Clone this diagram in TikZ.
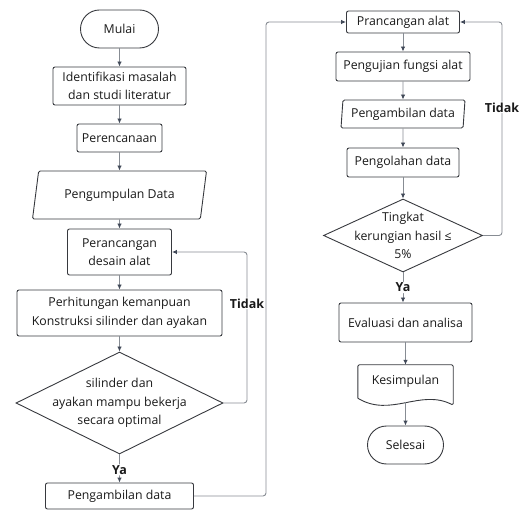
\documentclass[tikz,border=0pt]{standalone}
\usepackage{fontspec}
\setmainfont{Open Sans}
\usetikzlibrary{arrows.meta, shapes.geometric, calc}
\definecolor{boxline}{RGB}{55,57,62}
\definecolor{flowline}{RGB}{135,140,147}
\definecolor{headclr}{RGB}{65,73,88}

\begin{document}
\begin{tikzpicture}[x=1pt,y=-1pt,
  every node/.style={font=\fontsize{12.3}{18.5}\selectfont, text=black!90},
  terminal/.style={draw=boxline, line width=0.9pt, rounded corners=19pt, minimum width=78pt, minimum height=38pt, inner sep=0pt},
  process/.style={draw=boxline, line width=0.9pt, rounded corners=2pt, align=center, inner sep=0pt},
  inout/.style={draw=boxline, line width=0.9pt, trapezium, trapezium stretches body=true, rounded corners=1.5pt, inner sep=0pt},
  decision/.style={draw=boxline, line width=0.9pt, diamond, inner sep=0pt},
  flow/.style={draw=flowline, line width=0.9pt, rounded corners=3pt, -{Latex[length=5pt,width=4.5pt,color=headclr]}},
  answer/.style={fill=white, font=\fontsize{12.5}{15}\selectfont\bfseries, inner sep=1pt}
]
\useasboundingbox (0,0) rectangle (522,510);

% kolom kiri
\node[terminal] (mulai) at (119.5,29) {Mulai};
\node[process, minimum width=133pt, minimum height=38pt] (identifikasi) at (119.5,86) {Identifikasi masalah\\dan studi literatur};
\node[process, minimum width=85pt, minimum height=28pt] (perencanaan) at (119.5,138) {Perencanaan};
\node[inout, trapezium left angle=63.4, trapezium right angle=116.6, minimum width=174pt, minimum height=48pt] (pengumpulan) at (119.5,195) {Pengumpulan Data};
\node[process, minimum width=104pt, minimum height=46pt] (perancangan) at (119.5,252) {Perancangan\\desain alat};
\node[process, minimum width=205pt, minimum height=46pt] (perhitungan) at (119.5,313) {Perhitungan kemanpuan\\Konstruksi silinder dan ayakan};
\node[decision, minimum width=207pt, minimum height=102pt,
  label={[align=center]center:silinder dan\\ayakan mampu bekerja\\secara optimal}] (optimal) at (119.5,403) {};
\node[process, minimum width=148pt, minimum height=26pt] (ambilkiri) at (119.5,496) {Pengambilan data};

% kolom kanan
\node[process, minimum width=113pt, minimum height=22pt] (prancangan) at (403,22) {Prancangan alat};
\node[process, minimum width=134pt, minimum height=29pt] (pengujian) at (403,66.5) {Pengujian fungsi alat};
\node[inout, trapezium left angle=81, trapezium right angle=99, minimum width=124pt, minimum height=28pt] (ambilkanan) at (403,114) {Pengambilan data};
\node[process, minimum width=112pt, minimum height=29pt] (pengolahan) at (403,162.5) {Pengolahan data};
\node[decision, minimum width=159pt, minimum height=73pt,
  label={[align=center]center:Tingkat\\kerungian hasil ≤\\5\%}] (tingkat) at (403,235.5) {};
\node[process, minimum width=133pt, minimum height=39pt] (evaluasi) at (405.5,322.5) {Evaluasi dan analisa};
\node[minimum width=95pt, minimum height=33pt, inner sep=0pt] (kesimpulan) at (405.5,381.5) {Kesimpulan};
\node[terminal, minimum width=76pt] (selesai) at (405.5,445) {Selesai};

\draw[draw=boxline, line width=0.9pt, rounded corners=1.5pt] (kesimpulan.south west) -- (kesimpulan.north west) -- (kesimpulan.north east)
  -- ($(kesimpulan.south east)+(0,7)$) .. controls ($(kesimpulan.south)+(15,-10)$) and ($(kesimpulan.south)+(-15,20)$) .. (kesimpulan.south west);
\coordinate (kesbawah) at ($(kesimpulan.south)+(0,4)$);

% alur kiri
\draw[flow] (mulai) -- (identifikasi);
\draw[flow] (identifikasi) -- (perencanaan);
\draw[flow] (perencanaan) -- (pengumpulan);
\draw[flow] (pengumpulan) -- (perancangan);
\draw[flow] (perancangan) -- (perhitungan);
\draw[flow] (perhitungan) -- (optimal);
\draw[flow] (optimal.south) -- node[answer, pos=0.55]{Ya} (ambilkiri.north);
\coordinate (kiriA) at (247,403);
\draw[flow] (optimal.east) -- (kiriA) |- node[answer, pos=0.33]{Tidak} (perancangan.east);
\coordinate (sambung) at (266,496);
\draw[flow] (ambilkiri.east) -- (sambung) |- (prancangan.west);

% alur kanan
\draw[flow] (prancangan) -- (pengujian);
\draw[flow] (pengujian) -- (ambilkanan);
\draw[flow] (ambilkanan) -- (pengolahan);
\draw[flow] (pengolahan) -- (tingkat);
\draw[flow] (tingkat.south) -- node[answer, pos=0.5]{Ya} (tingkat.south |- evaluasi.north);
\coordinate (kananA) at (502,235.5);
\draw[flow] (tingkat.east) -- (kananA) |- node[answer, pos=0.3]{Tidak} (prancangan.east);
\draw[flow] (evaluasi) -- (kesimpulan);
\draw[flow] (kesbawah) -- (selesai);
\end{tikzpicture}
\end{document}
